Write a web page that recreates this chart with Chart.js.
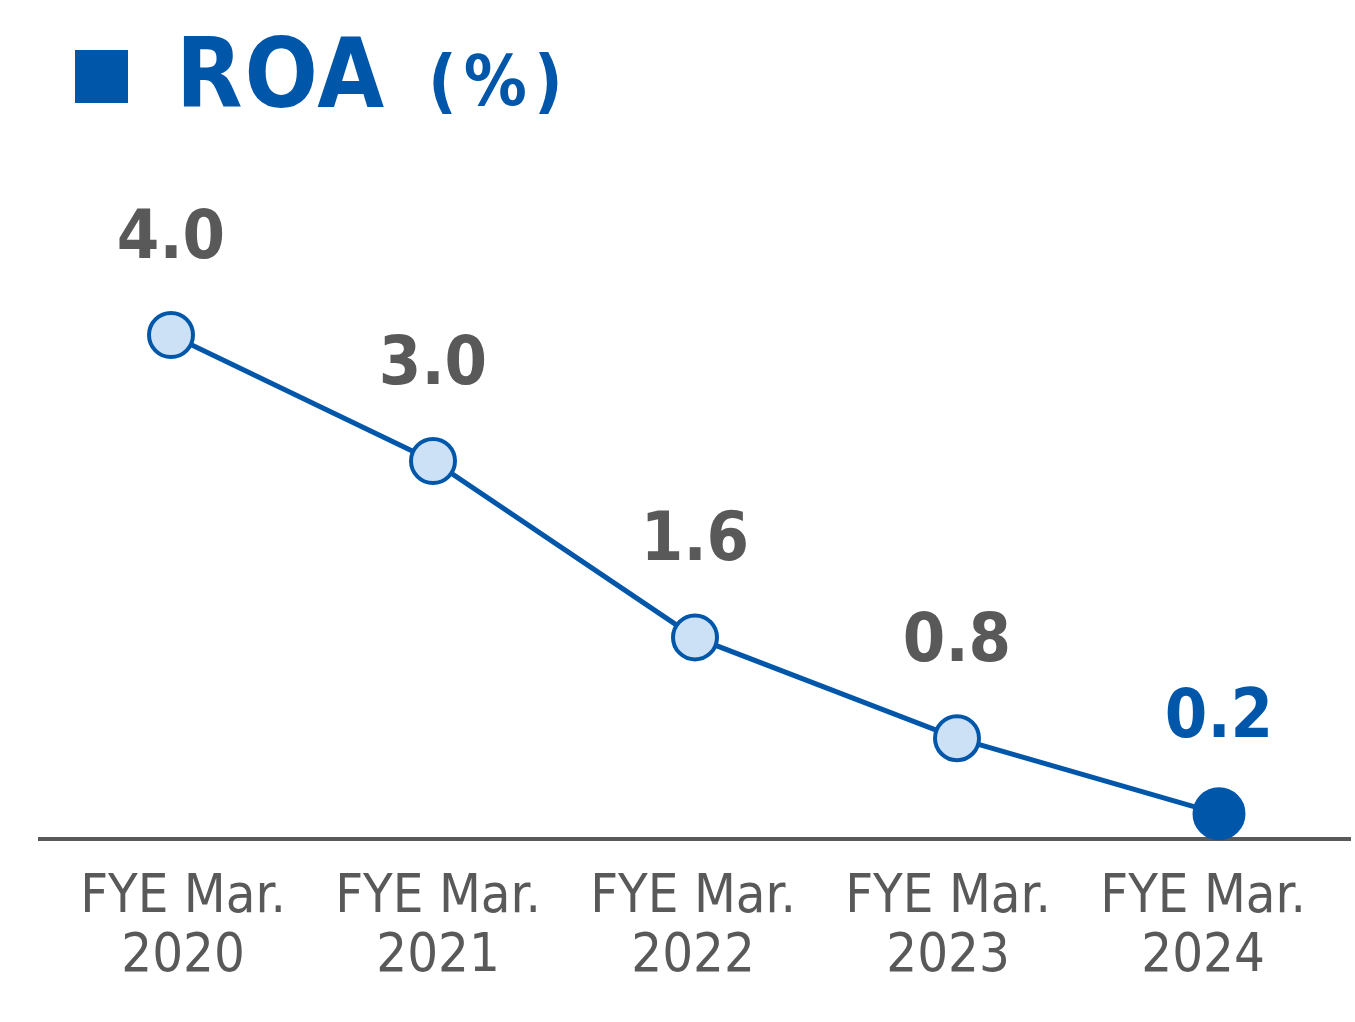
<!DOCTYPE html>
<html>
<head>
<meta charset="utf-8">
<script src="https://cdn.jsdelivr.net/npm/chart.js@4.4.1/dist/chart.umd.min.js"></script>
<style>
  html, body { margin: 0; padding: 0; background: #fff; }
  #wrap { position: relative; width: 1355px; height: 1022px; }
  #roaChart { position: absolute; left: 0; top: 0; }
  .ttl { position: absolute; color: #0057aa; font-weight: bold; line-height: 1; white-space: nowrap;
         font-family: "DejaVu Sans Condensed", "DejaVu Sans", sans-serif; }
  #sq { position: absolute; left: 75px; top: 50px; width: 53px; height: 53px; background: #0057aa; }
</style>
</head>
<body>
<div id="wrap">
  <canvas id="roaChart" width="1355" height="1022"></canvas>
  <div id="sq"></div>
  <div class="ttl" style="left:176px; top:26px; font-size:96px; letter-spacing:2px;">ROA</div>
  <div class="ttl" style="left:428px; top:46px; font-size:70px; letter-spacing:7px;">(%)</div>
</div>
<script>
  "use strict";

  var years = ["2020", "2021", "2022", "2023", "2024"];
  var xLabels = [["FYE Mar.", "2020"], ["FYE Mar.", "2021"], ["FYE Mar.", "2022"], ["FYE Mar.", "2023"], ["FYE Mar.", "2024"]];
  var roa = [4.0, 3.0, 1.6, 0.8, 0.2];

  var blue = "#0057aa", lightBlue = "#cce1f6", grey = "#595959";
  var fontFam = '"DejaVu Sans Condensed", "DejaVu Sans", sans-serif';

  // value labels above each point, last one in blue
  var valueLabels = {
    id: 'valueLabels',
    afterDatasetsDraw: function (chart) {
      var ctx = chart.ctx, meta = chart.getDatasetMeta(0);
      ctx.save();
      ctx.font = 'bold 68px ' + fontFam;
      ctx.textAlign = 'center';
      ctx.textBaseline = 'alphabetic';
      meta.data.forEach(function (pt, i) {
        ctx.fillStyle = (i === roa.length - 1) ? blue : grey;
        ctx.fillText(roa[i].toFixed(1), pt.x, pt.y - 77);
      });
      ctx.restore();
    }
  };

  var last = roa.length - 1;
  new Chart(document.getElementById('roaChart').getContext('2d'), {
    type: 'line',
    data: {
      labels: years,
      datasets: [{
        data: roa,
        xAxisID: 'x',
        borderColor: blue,
        borderWidth: 5,
        tension: 0,
        clip: false,
        pointRadius: roa.map(function (v, i) { return i === last ? 24.5 : 22; }),
        pointBorderWidth: 4,
        pointBorderColor: blue,
        pointBackgroundColor: roa.map(function (v, i) { return i === last ? blue : lightBlue; }),
      }]
    },
    options: {
      responsive: false,
      animation: false,
      layout: { autoPadding: false, padding: { left: 40, right: 5, top: 209, bottom: 0 } },
      plugins: { legend: { display: false }, tooltip: { enabled: false } },
      scales: {
        x: { type: 'category', offset: true, display: false },
        xl: {
          type: 'linear',
          position: 'bottom',
          min: -0.561,
          max: 4.576,
          afterBuildTicks: function (ax) {
            ax.ticks = xLabels.map(function (l, i) { return { value: i }; });
          },
          afterFit: function (ax) { ax.height = 183; },
          grid: { display: false, drawTicks: false },
          border: { display: true, color: grey, width: 4 },
          ticks: {
            padding: 29,
            color: grey,
            maxRotation: 0,
            autoSkip: false,
            font: { family: fontFam, size: 54, lineHeight: '59px' },
            callback: function (v) { return xLabels[v]; }
          }
        },
        y: { display: false, min: 0, max: 5 }
      }
    },
    plugins: [valueLabels]
  });
</script>
</body>
</html>
